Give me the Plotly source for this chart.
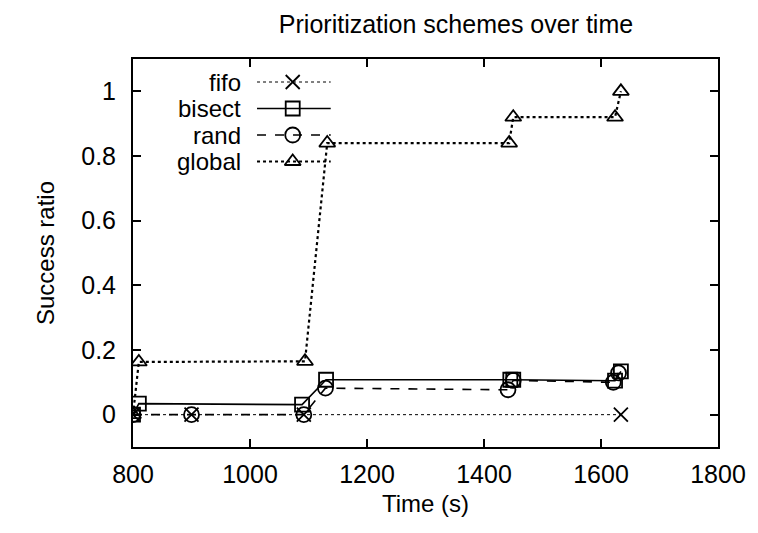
import plotly.graph_objects as go

# Data
fifo_t = [800, 900, 1092, 1634]
fifo_v = [0, 0, 0, 0]
bisect_t = [800, 810, 1089, 1130, 1445, 1450, 1624, 1634]
bisect_v = [0, 0.034, 0.031, 0.108, 0.108, 0.108, 0.105, 0.134]
rand_t = [800, 900, 1092, 1129, 1441, 1450, 1621, 1630]
rand_v = [0, 0, 0, 0.082, 0.077, 0.106, 0.10, 0.129]
global_t = [800, 810, 1094, 1132, 1443, 1450, 1624, 1634]
global_v = [0, 0.163, 0.165, 0.84, 0.84, 0.92, 0.92, 1.0]

series = [
    ("fifo", fifo_t, fifo_v, "dot", 1, "x-thin-open", 14),
    ("bisect", bisect_t, bisect_v, "solid", 1.6, "square-open", 14),
    ("rand", rand_t, rand_v, "dash", 1.6, "circle-open", 15),
    ("global", global_t, global_v, "dot", 2.2, "triangle-up-open", 14),
]

FONT = "Liberation Sans, Arial, sans-serif"
fig = go.Figure()
for name, t, v, dash, w, sym, sz in series:
    fig.add_trace(go.Scatter(
        x=t, y=v, mode="lines+markers", name=name, showlegend=False,
        line=dict(color="black", width=w, dash=dash),
        marker=dict(symbol=sym, size=sz, color="black", line=dict(width=1.8, color="black")),
    ))

# custom legend (gnuplot style: right-aligned text, then sample)
legend_y = [0.9407, 0.8724, 0.8041, 0.7358]
for i, (name, t, v, dash, w, sym, sz) in enumerate(series):
    ly = legend_y[i]
    fig.add_trace(go.Scatter(
        x=[0.212, 0.338], y=[ly, ly], xaxis="x2", yaxis="y2", mode="lines",
        line=dict(color="black", width=w, dash=dash), showlegend=False, hoverinfo="skip"))
    fig.add_trace(go.Scatter(
        x=[0.273], y=[ly], xaxis="x2", yaxis="y2", mode="markers",
        marker=dict(symbol=sym, size=sz, color="black", line=dict(width=1.8, color="black")),
        showlegend=False, hoverinfo="skip"))
    fig.add_annotation(x=0.188, y=ly, xref="paper", yref="paper", text=name,
                       showarrow=False, xanchor="right", yanchor="middle",
                       font=dict(family=FONT, size=24, color="black"))

fig.update_layout(
    width=758, height=533,
    margin=dict(l=133, r=36, t=59, b=86),
    paper_bgcolor="white", plot_bgcolor="white",
    font=dict(family=FONT, size=25, color="black"),
    title=dict(text="Prioritization schemes over time", x=456 / 758, xanchor="center",
               xref="container", y=1 - 24 / 533, yanchor="middle",
               font=dict(family=FONT, size=25, color="black")),
    xaxis=dict(range=[800, 1800], tickvals=[800, 1000, 1200, 1400, 1600, 1800],
               ticks="inside", ticklen=8, tickwidth=1.5, tickcolor="black",
               showline=True, linecolor="black", linewidth=2, mirror="ticks",
               showgrid=False, zeroline=False, ticklabelstandoff=4,
               title=dict(text="Time (s)", standoff=8, font=dict(size=24))),
    yaxis=dict(range=[-0.1, 1.1], tickvals=[0, 0.2, 0.4, 0.6, 0.8, 1],
               ticktext=["0", "0.2", "0.4", "0.6", "0.8", "1"],
               ticks="inside", ticklen=8, tickwidth=1.5, tickcolor="black",
               showline=True, linecolor="black", linewidth=2, mirror="ticks",
               showgrid=False, zeroline=False, ticklabelstandoff=10,
               title=dict(text="Success ratio", standoff=20, font=dict(size=24))),
    xaxis2=dict(range=[0, 1], overlaying="x", visible=False, fixedrange=True),
    yaxis2=dict(range=[0, 1], overlaying="y", visible=False, fixedrange=True),
)

fig.write_html("out.html")
